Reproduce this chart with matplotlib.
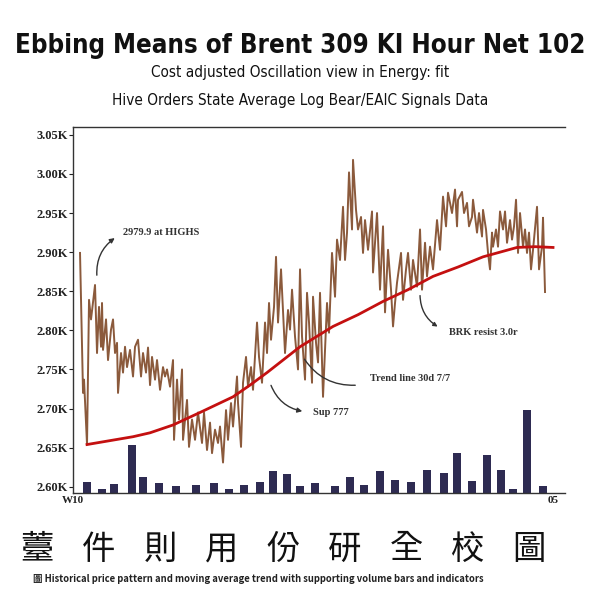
import matplotlib
matplotlib.use("Agg")
import matplotlib.pyplot as plt
from matplotlib.ticker import FuncFormatter

# hourly price series (hour index, price)
hours = [7, 10, 11, 14, 16, 18, 22, 24, 26, 28, 29, 30, 33, 35, 38, 40, 42, 44, 45, 48,
         50, 52, 54, 57, 60, 62, 65, 68, 70, 73, 75, 77, 79, 82, 84, 87, 90, 92, 94, 97,
         100, 101, 104, 106, 109, 110, 114, 116, 119, 122, 125, 129, 131, 134, 137, 139, 142, 145, 147, 150,
         153, 155, 158, 160, 164, 165, 168, 170, 173, 175, 178, 180, 184, 186, 189, 192, 194, 196, 198, 201,
         203, 205, 208, 212, 215, 217, 219, 222, 225, 227, 229, 232, 234, 236, 239, 240, 243, 245, 247, 250,
         254, 256, 259, 262, 264, 267, 270, 272, 274, 276, 279, 280, 283, 285, 288, 290, 292, 295, 299, 300,
         304, 307, 310, 312, 315, 318, 320, 322, 324, 328, 330, 333, 335, 338, 340, 344, 347, 349, 352, 354,
         357, 360, 364, 367, 370, 373, 375, 379, 382, 384, 385, 389, 391, 394, 396, 399, 400, 404, 406, 409,
         410, 413, 415, 417, 419, 420, 423, 425, 427, 430, 432, 434, 437, 439, 441, 443, 445, 447, 450, 452,
         454, 456, 458, 460, 464, 466, 469, 470, 472]
price = [2899, 2720, 2737, 2654, 2839, 2814, 2858, 2771, 2830, 2779, 2835, 2775, 2814, 2762, 2801, 2814, 2771, 2784, 2720, 2771,
         2746, 2779, 2753, 2775, 2741, 2779, 2788, 2741, 2771, 2746, 2778, 2730, 2766, 2737, 2762, 2724, 2753, 2741, 2750, 2728,
         2762, 2660, 2737, 2686, 2750, 2660, 2711, 2651, 2686, 2660, 2695, 2656, 2695, 2647, 2682, 2643, 2673, 2656, 2677, 2631,
         2698, 2660, 2707, 2677, 2741, 2707, 2651, 2733, 2766, 2728, 2753, 2724, 2810, 2766, 2733, 2810, 2771, 2835, 2788, 2830,
         2894, 2810, 2878, 2771, 2826, 2801, 2852, 2792, 2750, 2878, 2792, 2737, 2848, 2810, 2733, 2843, 2784, 2759, 2848, 2715,
         2835, 2797, 2899, 2843, 2916, 2890, 2958, 2890, 2925, 3002, 2929, 3018, 2954, 2929, 2945, 2899, 2941, 2903, 2952, 2874,
         2950, 2852, 2933, 2823, 2903, 2852, 2805, 2835, 2861, 2899, 2839, 2878, 2899, 2852, 2890, 2856, 2929, 2852, 2912, 2869,
         2907, 2878, 2941, 2903, 2971, 2933, 2976, 2950, 2980, 2933, 2967, 2977, 2950, 2963, 2933, 2945, 2967, 2925, 2950, 2920,
         2954, 2929, 2899, 2878, 2925, 2907, 2929, 2907, 2952, 2929, 2952, 2912, 2941, 2916, 2933, 2967, 2899, 2950, 2907, 2929,
         2899, 2925, 2878, 2903, 2958, 2878, 2907, 2944, 2849]

# moving average (hour index, price)
ma_hours = [14, 60, 77, 100, 127, 160, 177, 194, 210, 227, 260, 285, 310, 335, 360, 385, 410, 444, 462, 480]
ma_price = [2654, 2664, 2669, 2679, 2695, 2715, 2730, 2746, 2762, 2779, 2805, 2820, 2837, 2852, 2869, 2881, 2894, 2906, 2907, 2906]

# volume bars
vol_hours = [14, 29, 41, 59, 70, 86, 103, 123, 141, 156, 171, 187, 200, 214, 227, 242,
             262, 277, 291, 307, 322, 338, 354, 371, 384, 399, 414, 428, 440, 454, 470]
volume = [3.0, 1.1, 2.5, 13.1, 4.4, 2.7, 1.9, 2.2, 2.7, 1.1, 2.2, 3.0, 6.0, 5.2, 1.9, 2.7,
          1.9, 4.4, 2.2, 6.0, 3.6, 3.0, 6.3, 5.5, 10.9, 3.3, 10.4, 6.3, 1.1, 22.7, 1.9]

y_ticks = [2600, 2650, 2700, 2750, 2800, 2850, 2900, 2950, 3000, 3050]
x_ticks = [0, 480]
x_labels = ["W10", "05"]

title = "Ebbing Means of Brent 309 KI Hour Net 102"
subtitle1 = "Cost adjusted Oscillation view in Energy: fit"
subtitle2 = "Hive Orders State Average Log Bear/EAIC Signals Data"
cjk_chars = ["薹", "件", "則", "用", "份", "研", "全", "校", "圖"]
footnote = "圖 Historical price pattern and moving average trend with supporting volume bars and indicators"

narrow = ["DejaVu Sans", "Liberation Sans"]
serif = ["Liberation Serif", "DejaVu Serif"]
cjk = ["Noto Sans CJK TC", "DejaVu Sans"]

fig = plt.figure(figsize=(6, 6), dpi=100)
ax = fig.add_axes([0.1217, 0.1783, 0.82, 0.61])
ax2 = ax.twinx()

ax2.bar(vol_hours, volume, width=7.5, color="#2e2b52", zorder=1)
ax2.set_ylim(0, 100)
ax2.set_yticks([])
for s in ax2.spines.values():
    s.set_visible(False)

ax.set_zorder(ax2.get_zorder() + 1)
ax.patch.set_visible(False)

ax.plot(hours, price, color="#8b5a3c", lw=1.4, zorder=3)
ax.plot(ma_hours, ma_price, color="#c41010", lw=2.0, zorder=4)

ax.set_xlim(0, 492)
ax.set_ylim(2592, 3060)
ax.set_yticks(y_ticks)
ax.yaxis.set_major_formatter(FuncFormatter(lambda v, p: "%.2fK" % (v / 1000)))
ax.set_xticks(x_ticks)
ax.set_xticklabels(x_labels)
ax.tick_params(axis="y", length=3, width=0.8, pad=1, labelsize=9, colors="#222")
ax.tick_params(axis="x", length=0, pad=2, labelsize=8, colors="#222")
for lab in ax.get_yticklabels() + ax.get_xticklabels():
    lab.set_family(serif)
    lab.set_fontweight("bold")
ax.spines["right"].set_visible(False)
for side in ["left", "bottom", "top"]:
    ax.spines[side].set_color("#333")
    ax.spines[side].set_linewidth(1.0)

# annotations
ann = dict(fontsize=7.5, family=serif, fontweight="bold", color="#333")
ax.text(50, 2925, "2979.9 at HIGHS", va="center", ha="left", **ann)
ax.annotate("", xy=(44, 2920), xytext=(24, 2867),
            arrowprops=dict(arrowstyle="-|>", color="#333", lw=1.0, mutation_scale=7,
                            connectionstyle="arc3,rad=-0.3"))
ax.text(376, 2797, "BRK resist 3.0r", va="center", ha="left", **ann)
ax.annotate("", xy=(367, 2803), xytext=(347, 2848),
            arrowprops=dict(arrowstyle="-|>", color="#333", lw=1.0, mutation_scale=6,
                            connectionstyle="arc3,rad=0.3"))
ax.text(297, 2739, "Trend line 30d 7/7", va="center", ha="left", **ann)
ax.annotate("", xy=(285, 2730), xytext=(230, 2766),
            arrowprops=dict(arrowstyle="-", color="#333", lw=1.0,
                            connectionstyle="arc3,rad=0.3"))
ax.text(240, 2695, "Sup 777", va="center", ha="left", **ann)
ax.annotate("", xy=(232, 2696), xytext=(197, 2733),
            arrowprops=dict(arrowstyle="-|>", color="#333", lw=1.0, mutation_scale=7,
                            connectionstyle="arc3,rad=0.3"))

fig.text(0.5, 1 - 46 / 600, title, ha="center", va="center", fontsize=18.5,
         fontweight="bold", fontstretch="condensed", family=narrow, color="#111")
fig.text(0.5, 1 - 73 / 600, subtitle1, ha="center", va="center", fontsize=11,
         fontstretch="condensed", family=narrow, color="#111")
fig.text(0.5, 1 - 100 / 600, subtitle2, ha="center", va="center", fontsize=11,
         fontstretch="condensed", family=narrow, color="#111")
for i, ch in enumerate(cjk_chars):
    fig.text((37 + 61.5 * i) / 600, 1 - 549 / 600, ch, ha="center", va="center",
             fontsize=24, family=cjk, fontweight="light", color="#111")
fig.text(0.055, 1 - 579 / 600, footnote, ha="left", va="center", fontsize=6.8,
         family=cjk, fontweight="bold", color="#222")

fig.savefig("out.png", dpi=100, facecolor="white")
